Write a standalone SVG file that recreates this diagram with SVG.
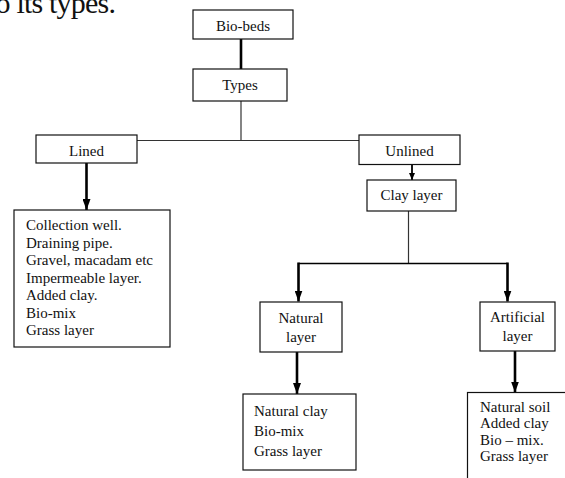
<svg xmlns="http://www.w3.org/2000/svg" width="565" height="478" viewBox="0 0 565 478">
<style>
  text { font-family: "Liberation Serif", "Times New Roman", serif; font-size: 15px; fill: #111; }
  .box { fill: #fff; stroke: #111; stroke-width: 1.2; }
  .c { text-anchor: middle; }
  .thin { stroke: #333; stroke-width: 1.2; fill: none; }
  .thick { stroke: #000; stroke-width: 2.6; fill: none; }
  .mid { stroke: #000; stroke-width: 1.8; fill: none; }
</style>
<defs>
  <marker id="arr" viewBox="0 0 11 8" markerWidth="11" markerHeight="8" refX="11" refY="4" orient="auto" markerUnits="userSpaceOnUse">
    <path d="M0,0 L11,4 L0,8 Z" fill="#000"/>
  </marker>
  <marker id="arrs" viewBox="0 0 7 6" markerWidth="7" markerHeight="6" refX="7" refY="3" orient="auto" markerUnits="userSpaceOnUse">
    <path d="M0,0 L7,3 L0,6 Z" fill="#000"/>
  </marker>
</defs>

<text x="-12" y="13" style="font-size:30px; letter-spacing:-0.8px">to its types.</text>

<g id="connectors">
  <line class="thick" x1="241" y1="39" x2="241" y2="69"/>
  <line class="thin" x1="241" y1="101" x2="241" y2="140.5"/>
  <line class="thin" x1="137" y1="140.5" x2="359" y2="140.5"/>
  <line class="thick" x1="86.5" y1="163" x2="86.5" y2="210" marker-end="url(#arr)"/>
  <line class="mid" x1="412" y1="164.5" x2="412" y2="180" marker-end="url(#arrs)"/>
  <line class="thin" x1="408.5" y1="211" x2="408.5" y2="263.5"/>
  <line class="mid" x1="298.5" y1="263.5" x2="507.5" y2="263.5" style="stroke-width:1.4"/>
  <line class="thick" x1="298.5" y1="262.5" x2="298.5" y2="301.5" marker-end="url(#arr)"/>
  <line class="thick" x1="507.5" y1="262.5" x2="507.5" y2="301.5" marker-end="url(#arr)"/>
  <line class="thick" x1="297" y1="352" x2="297" y2="394" marker-end="url(#arr)"/>
  <line class="thick" x1="515" y1="351" x2="515" y2="392.5" marker-end="url(#arr)"/>
</g>

<g id="bio-beds">
  <rect class="box" x="193" y="10" width="100" height="29"/>
  <text class="c" x="243" y="30.5">Bio-beds</text>
</g>
<g id="types">
  <rect class="box" x="193" y="69" width="94" height="32"/>
  <text class="c" x="240" y="89.5">Types</text>
</g>
<g id="lined">
  <rect class="box" x="36" y="135" width="101" height="28"/>
  <text class="c" x="86.5" y="155.5">Lined</text>
</g>
<g id="unlined">
  <rect class="box" x="359" y="135" width="101" height="29.5"/>
  <text class="c" x="409.5" y="155.5">Unlined</text>
</g>
<g id="clay-layer">
  <rect class="box" x="367" y="180" width="89" height="31"/>
  <text class="c" x="411.5" y="200">Clay layer</text>
</g>
<g id="lined-contents">
  <rect class="box" x="14" y="210" width="156" height="137"/>
  <text x="26" y="230">Collection well.</text>
  <text x="26" y="247.5">Draining pipe.</text>
  <text x="26" y="265">Gravel, macadam etc</text>
  <text x="26" y="282.5">Impermeable layer.</text>
  <text x="26" y="300">Added clay.</text>
  <text x="26" y="317.5">Bio-mix</text>
  <text x="26" y="335">Grass layer</text>
</g>
<g id="natural-layer">
  <rect class="box" x="260" y="302" width="82" height="50"/>
  <text class="c" x="301" y="322.5">Natural</text>
  <text class="c" x="301" y="342">layer</text>
</g>
<g id="artificial-layer">
  <rect class="box" x="480" y="302" width="75" height="49"/>
  <text class="c" x="517.5" y="321.5">Artificial</text>
  <text class="c" x="517.5" y="341">layer</text>
</g>
<g id="natural-contents">
  <rect class="box" x="243" y="394" width="113" height="76"/>
  <text x="254" y="416">Natural clay</text>
  <text x="254" y="436">Bio-mix</text>
  <text x="254" y="456">Grass layer</text>
</g>
<g id="artificial-contents">
  <rect class="box" x="467.5" y="392.5" width="110" height="100"/>
  <text x="480" y="411.5">Natural soil</text>
  <text x="480" y="428">Added clay</text>
  <text x="480" y="444.5">Bio – mix.</text>
  <text x="480" y="461">Grass layer</text>
</g>
</svg>
